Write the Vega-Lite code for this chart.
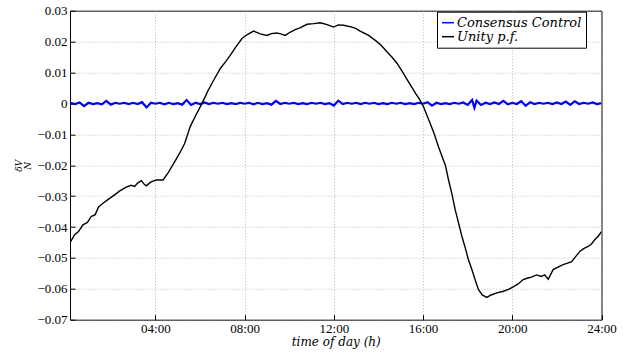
{
  "$schema": "https://vega.github.io/schema/vega-lite/v6.json",
  "width": 531.5,
  "height": 309,
  "autosize": "none",
  "padding": {"left": 70, "top": 10.7, "right": 36.5, "bottom": 36.3},
  "background": "white",
  "config": {
    "view": {"stroke": "#000", "strokeWidth": 1},
    "font": "Liberation Serif",
    "axis": {
      "labelFont": "Liberation Serif", "labelFontSize": 13, "labelColor": "#000", "labelOverlap": false,
      "titleFont": "DejaVu Serif", "titleColor": "#000", "titleFontWeight": "normal",
      "domain": false, "tickColor": "#000", "tickSize": -5, "labelPadding": 8,
      "gridColor": "#aaa", "gridDash": [1, 2], "gridWidth": 0.8
    },
    "legend": {"labelLimit": 300}
  },
  "datasets": {
    "cc": [
      {"t":0.17,"v":0.0002},{"t":0.4,"v":-0.0002},{"t":0.6,"v":0.0003},{"t":0.8,"v":-0.0009},{"t":1.0,"v":0.0002},{"t":1.2,"v":-0.0002},{"t":1.4,"v":0.0001},{"t":1.6,"v":-0.0003},{"t":1.8,"v":0.0008},{"t":2.0,"v":-0.0004},
      {"t":2.2,"v":0.0002},{"t":2.4,"v":-0.0001},{"t":2.6,"v":0.0002},{"t":2.8,"v":-0.0002},{"t":3.0,"v":0.0002},{"t":3.2,"v":-0.0002},{"t":3.4,"v":0.0004},{"t":3.6,"v":-0.0013},{"t":3.8,"v":0.0002},{"t":4.0,"v":-0.0001},
      {"t":4.2,"v":0.0002},{"t":4.4,"v":-0.0003},{"t":4.6,"v":0.0002},{"t":4.8,"v":-0.0002},{"t":5.0,"v":0.0001},{"t":5.2,"v":-0.0004},{"t":5.4,"v":0.0011},{"t":5.6,"v":-0.0005},{"t":5.8,"v":0.0002},{"t":6.0,"v":-0.0002},
      {"t":6.2,"v":0.0003},{"t":6.4,"v":-0.0002},{"t":6.6,"v":0.0002},{"t":6.8,"v":-0.0001},{"t":7.0,"v":0.0002},{"t":7.2,"v":-0.0002},{"t":7.4,"v":0.0001},{"t":7.6,"v":-0.0002},{"t":7.8,"v":0.0002},{"t":8.0,"v":-0.0001},
      {"t":8.2,"v":0.0002},{"t":8.4,"v":-0.0003},{"t":8.6,"v":0.0002},{"t":8.8,"v":-0.0002},{"t":9.0,"v":0.0001},{"t":9.2,"v":-0.0004},{"t":9.4,"v":0.0008},{"t":9.6,"v":-0.0002},{"t":9.8,"v":0.0002},{"t":10.0,"v":-0.0001},
      {"t":10.2,"v":0.0002},{"t":10.4,"v":-0.0002},{"t":10.6,"v":0.0001},{"t":10.8,"v":-0.0002},{"t":11.0,"v":0.0002},{"t":11.2,"v":-0.0001},{"t":11.4,"v":0.0002},{"t":11.6,"v":-0.0002},{"t":11.8,"v":0.0001},{"t":12.0,"v":-0.0007},
      {"t":12.2,"v":0.0009},{"t":12.4,"v":-0.0002},{"t":12.6,"v":0.0002},{"t":12.8,"v":-0.0001},{"t":13.0,"v":0.0002},{"t":13.2,"v":-0.0002},{"t":13.4,"v":0.0002},{"t":13.6,"v":-0.0001},{"t":13.8,"v":0.0002},{"t":14.0,"v":-0.0002},
      {"t":14.2,"v":0.0001},{"t":14.4,"v":-0.0002},{"t":14.6,"v":0.0002},{"t":14.8,"v":-0.0001},{"t":15.0,"v":0.0002},{"t":15.2,"v":-0.0002},{"t":15.4,"v":0.0001},{"t":15.6,"v":-0.0002},{"t":15.8,"v":0.0002},{"t":16.0,"v":-0.0001},
      {"t":16.2,"v":0.0004},{"t":16.4,"v":-0.0007},{"t":16.6,"v":0.0002},{"t":16.8,"v":-0.0002},{"t":17.0,"v":0.0001},{"t":17.2,"v":-0.0002},{"t":17.4,"v":0.0002},{"t":17.6,"v":-0.0001},{"t":17.8,"v":0.0003},{"t":18.0,"v":-0.0005},
      {"t":18.2,"v":0.0011},{"t":18.3,"v":-0.0014},{"t":18.4,"v":0.0009},{"t":18.6,"v":-0.0005},{"t":18.8,"v":0.0002},{"t":19.0,"v":-0.0002},{"t":19.2,"v":0.0003},{"t":19.4,"v":-0.0002},{"t":19.6,"v":0.0008},{"t":19.8,"v":-0.0003},
      {"t":20.0,"v":0.0002},{"t":20.2,"v":-0.0002},{"t":20.4,"v":0.0007},{"t":20.6,"v":-0.0008},{"t":20.8,"v":0.0004},{"t":21.0,"v":-0.0002},{"t":21.2,"v":0.0002},{"t":21.4,"v":-0.0001},{"t":21.6,"v":0.0002},{"t":21.8,"v":-0.0002},
      {"t":22.0,"v":0.0003},{"t":22.2,"v":-0.0002},{"t":22.4,"v":0.0006},{"t":22.6,"v":-0.0005},{"t":22.8,"v":0.0007},{"t":23.0,"v":-0.0002},{"t":23.2,"v":0.0002},{"t":23.4,"v":-0.0001},{"t":23.6,"v":0.0003},{"t":23.8,"v":-0.0002},{"t":24.0,"v":0.0001}
    ],
    "up": [
      {"t":0.17,"v":-0.0451},{"t":0.38,"v":-0.0425},{"t":0.55,"v":-0.0415},{"t":0.75,"v":-0.0393},{"t":0.95,"v":-0.0385},{"t":1.12,"v":-0.0366},{"t":1.3,"v":-0.036},{"t":1.45,"v":-0.0335},{"t":1.65,"v":-0.0323},{"t":1.9,"v":-0.031},
      {"t":2.17,"v":-0.0296},{"t":2.4,"v":-0.0283},{"t":2.69,"v":-0.0271},{"t":2.9,"v":-0.0265},{"t":3.07,"v":-0.0269},{"t":3.2,"v":-0.0258},{"t":3.37,"v":-0.025},{"t":3.5,"v":-0.0262},{"t":3.59,"v":-0.0267},{"t":3.8,"v":-0.0254},
      {"t":4.04,"v":-0.0248},{"t":4.34,"v":-0.0248},{"t":4.56,"v":-0.0226},{"t":4.86,"v":-0.0189},{"t":5.08,"v":-0.0162},{"t":5.31,"v":-0.013},{"t":5.56,"v":-0.0075},{"t":5.8,"v":-0.004},{"t":6.09,"v":0.0},{"t":6.35,"v":0.004},
      {"t":6.61,"v":0.0075},{"t":6.91,"v":0.0113},{"t":7.15,"v":0.0135},{"t":7.36,"v":0.0156},{"t":7.6,"v":0.0182},{"t":7.88,"v":0.021},{"t":8.1,"v":0.0222},{"t":8.4,"v":0.0234},{"t":8.7,"v":0.0225},{"t":9.0,"v":0.022},
      {"t":9.2,"v":0.0226},{"t":9.45,"v":0.0228},{"t":9.65,"v":0.0224},{"t":9.82,"v":0.022},{"t":10.05,"v":0.0231},{"t":10.27,"v":0.0239},{"t":10.5,"v":0.0245},{"t":10.8,"v":0.0256},{"t":11.1,"v":0.0258},{"t":11.39,"v":0.0261},
      {"t":11.7,"v":0.0255},{"t":11.99,"v":0.0247},{"t":12.2,"v":0.0254},{"t":12.44,"v":0.0253},{"t":12.81,"v":0.0247},{"t":13.0,"v":0.0242},{"t":13.18,"v":0.0234},{"t":13.56,"v":0.022},{"t":13.93,"v":0.02},{"t":14.15,"v":0.0186},
      {"t":14.38,"v":0.0167},{"t":14.6,"v":0.015},{"t":14.83,"v":0.013},{"t":15.05,"v":0.0105},{"t":15.3,"v":0.0075},{"t":15.5,"v":0.0052},{"t":15.67,"v":0.0032},{"t":15.85,"v":0.0012},{"t":16.02,"v":-0.0011},{"t":16.32,"v":-0.0065},
      {"t":16.5,"v":-0.0098},{"t":16.69,"v":-0.014},{"t":16.91,"v":-0.0183},{"t":17.0,"v":-0.02},{"t":17.14,"v":-0.0247},{"t":17.3,"v":-0.0295},{"t":17.44,"v":-0.0344},{"t":17.6,"v":-0.039},{"t":17.74,"v":-0.043},{"t":17.9,"v":-0.047},
      {"t":18.03,"v":-0.0505},{"t":18.2,"v":-0.054},{"t":18.33,"v":-0.057},{"t":18.48,"v":-0.0602},{"t":18.65,"v":-0.062},{"t":18.86,"v":-0.0628},{"t":19.05,"v":-0.062},{"t":19.31,"v":-0.0613},{"t":19.6,"v":-0.0608},{"t":19.83,"v":-0.0602},
      {"t":20.04,"v":-0.0594},{"t":20.25,"v":-0.0585},{"t":20.49,"v":-0.057},{"t":20.7,"v":-0.0565},{"t":20.86,"v":-0.0562},{"t":21.09,"v":-0.0555},{"t":21.3,"v":-0.056},{"t":21.45,"v":-0.0555},{"t":21.61,"v":-0.0569},{"t":21.83,"v":-0.0538},
      {"t":22.05,"v":-0.053},{"t":22.28,"v":-0.0522},{"t":22.45,"v":-0.0518},{"t":22.66,"v":-0.0512},{"t":22.85,"v":-0.0495},{"t":23.03,"v":-0.0479},{"t":23.2,"v":-0.047},{"t":23.4,"v":-0.0463},{"t":23.55,"v":-0.0455},{"t":23.7,"v":-0.0441},
      {"t":23.85,"v":-0.043},{"t":24.0,"v":-0.0415}
    ]
  },
  "encoding": {
    "x": {"field": "t", "type": "quantitative", "scale": {"domain": [0.17, 24], "nice": false, "zero": false},
      "axis": {"orient": "bottom", "values": [4, 8, 12, 16, 20, 24], "labelExpr": "(datum.value < 10 ? '0' : '') + datum.value + ':00'",
        "title": "time of day (h)", "titleFontStyle": "italic", "titleFontSize": 12, "titlePadding": 1, "labelFlush": false, "labelOverlap": false}},
    "y": {"field": "v", "type": "quantitative", "scale": {"domain": [-0.07, 0.03], "nice": false, "zero": false},
      "axis": {"orient": "left", "tickCount": 10, "format": ".2f",
        "labelExpr": "abs(datum.value) < 0.001 ? '0' : replace(datum.label, '-', '−')", "labelOverlap": false, "labelFlush": false,
        "title": ["δV", "N"], "titleFontStyle": "italic", "titleFontSize": 9, "titlePadding": 4, "titleLineHeight": 9}},
    "color": {"field": "s", "type": "nominal",
      "scale": {"domain": ["Consensus Control", "Unity p.f."], "range": ["#0000ff", "#000000"]},
      "legend": {"title": null, "orient": "none", "legendX": 367, "legendY": 1, "strokeColor": "#000", "fillColor": "#fff",
        "padding": 4, "symbolType": "stroke", "symbolSize": 144, "symbolStrokeWidth": 1.5, "labelFont": "DejaVu Serif",
        "labelFontStyle": "italic", "labelFontSize": 13, "labelColor": "#000", "labelOffset": 2, "rowPadding": 0, "cornerRadius": 0}}
  },
  "layer": [
    {
      "data": {"name": "cc"},
      "transform": [{"calculate": "'Consensus Control'", "as": "s"}],
      "mark": {"type": "line", "strokeWidth": 2.2, "clip": true}
    },
    {
      "data": {"name": "up"},
      "transform": [{"calculate": "'Unity p.f.'", "as": "s"}],
      "mark": {"type": "line", "strokeWidth": 1.4, "clip": true}
    }
  ]
}
